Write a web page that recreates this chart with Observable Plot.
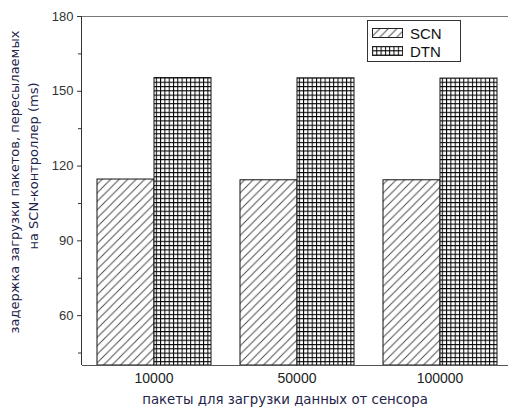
<!DOCTYPE html>
<html>
<head>
<meta charset="utf-8">
<script src="https://cdn.jsdelivr.net/npm/d3@7"></script>
<script src="https://cdn.jsdelivr.net/npm/@observablehq/plot@0.6"></script>
<style>
  body { margin: 0; background: #fff; }
  #wrap { position: relative; width: 508px; height: 407px; overflow: hidden; }
  #chart svg text { font-family: "Liberation Sans", Arial, sans-serif; }
  .yt { position: absolute; transform: translate(-50%, -50%) rotate(-90deg); white-space: nowrap;
        font-family: "DejaVu Sans", sans-serif; font-size: 13px; color: #23234a; }
  .xt { position: absolute; transform: translate(-50%, -50%); white-space: nowrap;
        font-family: "DejaVu Sans", sans-serif; font-size: 13.3px; color: #23234a; }
  #legend { position: absolute; left: 367px; top: 20px; width: 94px; height: 42px; border: 1px solid #333;
            box-sizing: border-box; font-family: "Liberation Sans", Arial, sans-serif; font-size: 15px; color: #111; }
  .lrow { position: absolute; left: 4px; height: 18px; display: flex; align-items: center; }
  .lrow svg { margin-right: 7px; }
</style>
</head>
<body>
<svg width="0" height="0" style="position:absolute">
  <defs>
    <pattern id="pScn" patternUnits="userSpaceOnUse" width="8.5" height="8.5">
      <path d="M0,8.5 L8.5,0 M-2,2 L2,-2 M6.5,10.5 L10.5,6.5" stroke="#4a4a4a" stroke-width="1" fill="none"/>
    </pattern>
    <pattern id="pDtn" patternUnits="userSpaceOnUse" width="4.3" height="4.3">
      <rect width="4.3" height="4.3" fill="#fff"/>
      <path d="M0.5,0 V4.3 M0,0.5 H4.3" stroke="#000" stroke-width="1" fill="none"/>
    </pattern>
  </defs>
</svg>
<div id="wrap">
  <div id="chart"></div>
  <div class="yt" style="left:14px; top:182px;">задержка загрузки пакетов, пересылаемых</div>
  <div class="yt" style="left:33px; top:166px;">на SCN-контроллер (ms)</div>
  <div class="xt" style="left:285px; top:399px;">пакеты для загрузки данных от сенсора</div>
  <div id="legend">
    <div class="lrow" style="top:3px;"><svg width="31" height="10"><rect x="0.5" y="0.5" width="30" height="9" fill="url(#pScn)" stroke="#222"/></svg>SCN</div>
    <div class="lrow" style="top:21px;"><svg width="31" height="10"><rect x="0.5" y="0.5" width="30" height="9" fill="url(#pDtn)" stroke="#222"/></svg>DTN</div>
  </div>
</div>
<script>
const groups = ["10000", "50000", "100000"];
const series = ["SCN", "DTN"];
const scnValues = [114.6, 114.3, 114.3];
const dtnValues = [155.3, 155.2, 155.1];
const yDomain = [40, 180];
const yTicks = [60, 90, 120, 150, 180];
const yMinorTicks = [45, 75, 105, 135, 165];
const fills = ["url(#pScn)", "url(#pDtn)"];

const data = [];
groups.forEach((g, i) => {
  data.push({group: g, series: "SCN", value: scnValues[i]});
  data.push({group: g, series: "DTN", value: dtnValues[i]});
});

const marginLeft = 81;
const plot = Plot.plot({
  width: 508,
  height: 407,
  marginTop: 16,
  marginBottom: 42,
  marginLeft: marginLeft,
  marginRight: -3,
  style: {fontFamily: "Liberation Sans, Arial, sans-serif", background: "white"},
  fx: {domain: groups, padding: 0, axis: null},
  x: {domain: series, paddingInner: 0, paddingOuter: 0.235, axis: null},
  y: {domain: yDomain, axis: null},
  color: {domain: series, range: fills},
  marks: [
    Plot.barY(data, {fx: "group", x: "series", y1: () => yDomain[0], y2: "value",
      fill: "series", stroke: "#111", strokeWidth: 1}),
    Plot.ruleY([yDomain[1]], {stroke: "#777", strokeWidth: 1}),
    Plot.ruleY([yDomain[0]], {stroke: "#555", strokeWidth: 1}),
    Plot.axisY({ticks: yTicks, tickSize: 5, tickPadding: 4, label: null,
      stroke: "#333", fill: "#333", fontSize: 13}),
    Plot.axisY({ticks: yMinorTicks, tickSize: 4, tickFormat: () => "", label: null, stroke: "#333"}),
    Plot.axisFx({anchor: "bottom", tickSize: 0, tickPadding: 8, label: null, fontSize: 14, fill: "#222"})
  ]
});
// left axis line spanning the y scale range
const yr = plot.scale("y").range;
d3.select(plot).append("line")
  .attr("x1", marginLeft + 0.5).attr("x2", marginLeft + 0.5)
  .attr("y1", yr[0]).attr("y2", yr[1])
  .attr("stroke", "#333").attr("stroke-width", 1);
document.getElementById("chart").appendChild(plot);
</script>
</body>
</html>
